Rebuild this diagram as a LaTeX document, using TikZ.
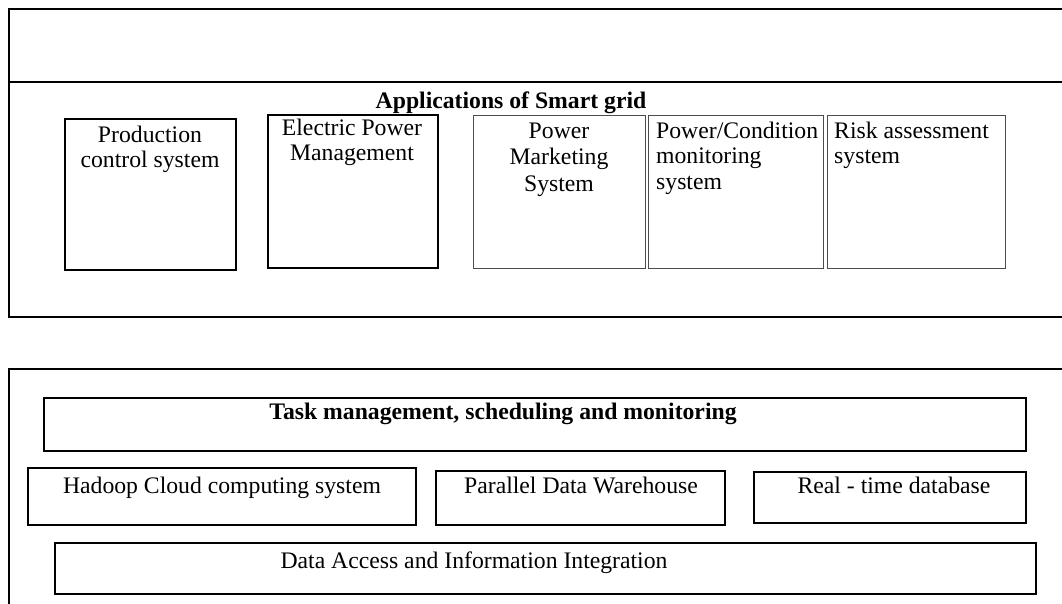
\documentclass[tikz,border=0pt]{standalone}
\usepackage{fontspec}
\setmainfont{Liberation Serif}
\begin{document}
\begin{tikzpicture}[x=1pt,y=-1pt,
  frameline/.style={line width=2.2pt, black},
  blackbox/.style={draw=black, line width=2pt, inner sep=0pt, anchor=north west},
  cellbox/.style={draw=black!70, line width=1.1pt, inner sep=0pt, anchor=north west},
  txt/.style={inner sep=0pt, font=\fontsize{23.7}{25.5}\selectfont, anchor=base},
  txtl/.style={txt, anchor=base west, align=left},
  txtc/.style={txt, align=center},
]
\useasboundingbox (0,0) rectangle (1062,603);
\clip (0,0) rectangle (1062,603);

% upper frame: open on the right, split by a horizontal rule
\draw[frameline] (1075,9) -- (9,9) -- (9,317) -- (1075,317);
\draw[frameline] (9,82) -- (1075,82);

\node[txt, font=\fontsize{23.7}{25.5}\selectfont\bfseries] (apps) at (511,108.5) {Applications of Smart grid};

% application boxes
\node[blackbox, minimum width=171pt, minimum height=151pt] (pcs) at (64,118) {};
\node[blackbox, minimum width=170pt, minimum height=153pt] (epm) at (267,114) {};
\node[cellbox, minimum width=172pt, minimum height=153pt] (pms) at (473,115) {};
\node[cellbox, minimum width=175pt, minimum height=153pt] (pcm) at (648,115) {};
\node[cellbox, minimum width=178pt, minimum height=153pt] (ras) at (827,115) {};

% multi-line labels: the base anchor sits on the last line
\node[txtc] (pcs-t) at (150,167.5) {Production\\control system};
\node[txtc] (epm-t) at (352,160.5) {Electric Power\\Management};
\node[txtc, font=\fontsize{23.7}{26.5}\selectfont] (pms-t) at (559,191) {Power\\Marketing\\System};
\node[txtl] (pcm-t) at (656,189) {Power/Condition\\monitoring\\system};
\node[txtl] (ras-t) at (834,163.5) {Risk assessment\\system};

% lower frame: open on the right and at the bottom
\draw[frameline] (1075,369) -- (9,369) -- (9,610);

\node[blackbox, minimum width=982pt, minimum height=53pt] (task) at (43,397) {};
\node[blackbox, minimum width=388pt, minimum height=57pt] (hadoop) at (27,467) {};
\node[blackbox, minimum width=289pt, minimum height=54pt] (pdw) at (435,470) {};
\node[blackbox, minimum width=272pt, minimum height=51pt] (rtdb) at (753,471) {};
\node[blackbox, minimum width=981pt, minimum height=51pt] (daii) at (54,542) {};

\node[txt, font=\fontsize{23.7}{25.5}\selectfont\bfseries] (task-t) at (503,419) {Task management, scheduling and monitoring};
\node[txt] (hadoop-t) at (222,493) {Hadoop Cloud computing system};
\node[txt] (pdw-t) at (581,493) {Parallel Data Warehouse};
\node[txt] (rtdb-t) at (894,493) {Real - time database};
\node[txt] (daii-t) at (474,568) {Data Access and Information Integration};
\end{tikzpicture}
\end{document}
